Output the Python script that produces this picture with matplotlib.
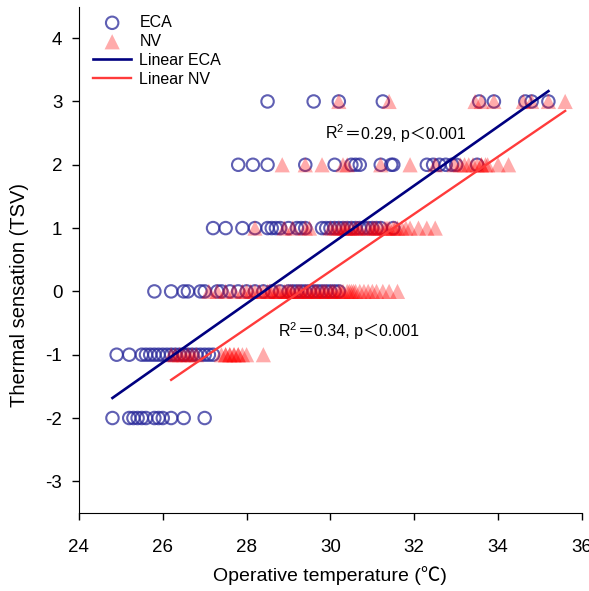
import numpy as np
import matplotlib.pyplot as plt

plt.rcParams['font.family'] = ['Liberation Sans', 'Noto Sans CJK SC', 'DejaVu Sans']
plt.rcParams['axes.unicode_minus'] = False
plt.rcParams['mathtext.default'] = 'regular'

# operative temperature of each vote, grouped by thermal sensation vote
eca_m2 = [24.8, 25.2, 25.3, 25.4, 25.5, 25.6, 25.8, 25.9, 26.0, 26.2, 26.5, 27.0]
eca_m1 = [24.9, 25.2, 25.5, 25.6, 25.7, 25.8, 25.9, 26.0, 26.1, 26.2, 26.3, 26.4,
          26.5, 26.5, 26.6, 26.7, 26.8, 26.9, 27.0, 27.1, 27.2]
eca_0 = [25.8, 26.2, 26.5, 26.6, 26.9, 27.0, 27.3, 27.4, 27.6, 27.8, 28.0, 28.2,
         28.4, 28.6, 28.8, 29.0, 29.1, 29.2, 29.3, 29.4, 29.5, 29.6, 29.7, 29.8,
         29.9, 30.0, 30.1, 30.2]
eca_1 = [27.2, 27.5, 27.9, 28.2, 28.5, 28.6, 28.7, 28.8, 29.0, 29.2, 29.3, 29.4,
         29.8, 29.9, 30.0, 30.1, 30.2, 30.3, 30.4, 30.5, 30.6, 30.7, 30.8, 30.9,
         31.0, 31.1, 31.2, 31.5]
eca_2 = [27.8, 28.15, 28.5, 29.4, 30.1, 30.5, 30.6, 30.7, 31.2, 31.45, 31.5,
         32.3, 32.45, 32.6, 32.75, 32.9, 33.0, 33.5]
eca_3 = [28.5, 29.6, 30.2, 31.25, 33.55, 33.9, 34.65, 34.8, 35.2]

nv_m1 = [26.2, 26.3, 26.4, 26.5, 26.6, 26.7, 26.8, 27.4, 27.5, 27.5, 27.6, 27.6,
         27.7, 27.7, 27.8, 27.8, 27.9, 28.0, 28.4]
nv_0 = [27.1, 27.3, 27.5, 27.7, 27.9, 28.0, 28.1, 28.2, 28.3, 28.4, 28.5, 28.55,
        28.6, 28.7, 28.75, 28.8, 28.9, 28.95, 29.0, 29.05, 29.1, 29.2, 29.25, 29.3,
        29.4, 29.45, 29.5, 29.6, 29.65, 29.7, 29.8, 29.85, 29.9, 30.0, 30.05, 30.1,
        30.2, 30.25, 30.3, 30.4, 30.45, 30.5, 30.55, 30.6, 30.7, 30.8, 30.9, 31.0,
        31.1, 31.25, 31.4, 31.6]
nv_1 = [28.2, 28.9, 29.1, 29.4, 29.5, 30.0, 30.1, 30.2, 30.3, 30.35, 30.4, 30.5,
        30.6, 30.65, 30.7, 30.9, 31.0, 31.05, 31.1, 31.2, 31.3, 31.35, 31.4, 31.5,
        31.55, 31.6, 31.7, 31.8, 31.9, 32.1, 32.3, 32.5]
nv_2 = [28.85, 29.4, 29.8, 30.3, 30.4, 31.2, 31.9, 32.5, 32.95, 33.1, 33.2,
        33.3, 33.4, 33.5, 33.6, 33.6, 33.7, 33.75, 34.0, 34.25]
nv_3 = [30.2, 31.4, 33.45, 33.6, 33.9, 34.6, 34.8, 35.2, 35.6]

# linear fits: slope, intercept and fitted temperature range
eca_fit = [0.466, -13.24]
eca_range = [24.8, 35.2]
nv_fit = [0.452, -13.24]
nv_range = [26.2, 35.6]
eca_stats = '＝0.29, p＜0.001'
nv_stats = '＝0.34, p＜0.001'

eca_groups = [(-2, eca_m2), (-1, eca_m1), (0, eca_0), (1, eca_1), (2, eca_2), (3, eca_3)]
nv_groups = [(-1, nv_m1), (0, nv_0), (1, nv_1), (2, nv_2), (3, nv_3)]

eca_x = np.concatenate([g for _, g in eca_groups])
eca_y = np.concatenate([[v] * len(g) for v, g in eca_groups])
nv_x = np.concatenate([g for _, g in nv_groups])
nv_y = np.concatenate([[v] * len(g) for v, g in nv_groups])

fig = plt.figure(figsize=(5.89, 5.91), dpi=100)
ax = fig.add_axes([0.134, 0.132, 0.854, 0.857])

ax.scatter(eca_x, eca_y, s=80, facecolors='none', edgecolors='#2a2a9a',
           linewidths=1.5, alpha=0.75, label='ECA', zorder=2)
ax.scatter(nv_x, nv_y, s=120, marker='^', color='red', edgecolors='none',
           alpha=0.33, label='NV', zorder=3)

xe = np.array(eca_range)
ax.plot(xe, eca_fit[0] * xe + eca_fit[1], color='#000080', lw=1.9,
        label='Linear ECA', zorder=4)
xn = np.array(nv_range)
ax.plot(xn, nv_fit[0] * xn + nv_fit[1], color='#ff3b3b', lw=1.7,
        label='Linear NV', zorder=4)

# R^2 in mathtext, the rest as plain text so the full-width signs render
for (tx, ty), stats in [((29.86, 2.40), eca_stats), ((28.75, -0.72), nv_stats)]:
    r2 = ax.text(tx, ty, 'R$^{2}$', fontsize=11.5, va='baseline')
    ax.annotate(stats, xy=(1, 0), xycoords=r2, xytext=(0.5, 2.8),
                textcoords='offset points', fontsize=11.5,
                va='baseline', ha='left')

ax.set_xlim(24, 36)
ax.set_ylim(-3.5, 4.5)
ax.set_xticks(np.arange(24, 37, 2))
ax.set_yticks(np.arange(-3, 5, 1))
ax.tick_params(direction='out', length=5, width=1, labelsize=13.5)
ax.tick_params(axis='x', pad=14)
ax.tick_params(axis='y', pad=7)
for side in ['top', 'right']:
    ax.spines[side].set_visible(False)

ax.set_xlabel('Operative temperature (℃)', fontsize=14, labelpad=7)
ax.set_ylabel('Thermal sensation (TSV)', fontsize=14.5)
ax.yaxis.set_label_coords(-0.1, 0.43)

leg = ax.legend(loc='upper left', bbox_to_anchor=(93 / 589, 1 - 15 / 591),
                bbox_transform=fig.transFigure, frameon=False, fontsize=11.5,
                borderpad=0, borderaxespad=0, handlelength=2.4,
                handletextpad=0.5, labelspacing=0.25)
leg.legend_handles[0].set_alpha(0.75)
leg.legend_handles[1].set_alpha(0.33)

fig.savefig('out.png', dpi=100)
